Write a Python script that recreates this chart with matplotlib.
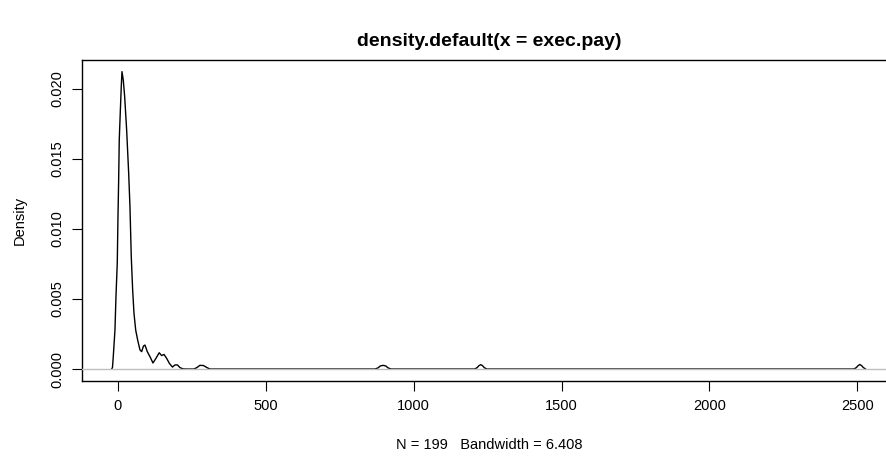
import matplotlib
matplotlib.use("Agg")
import matplotlib.pyplot as plt

plt.rcParams['font.family'] = ['Liberation Sans', 'DejaVu Sans']

# density curve of exec.pay
pay = [-19.9, -17.2, -14.5, -8.8, -5.4, -1.0, 1.4, 3.7, 5.7, 9.1, 12.5, 14.9,
       19.3, 24.0, 30.7, 37.5, 41.9, 46.3, 51.0, 55.4, 61.2, 67.9, 75.7, 81.4,
       87.5, 92.6, 100.4, 109.5, 119.6, 129.7, 140.6, 149.0, 156.8, 165.9,
       175.4, 185.5, 193.9, 202.4, 210.8, 221.0, 231.0,
       258, 268, 278, 290, 302, 312,
       870, 880, 888, 897, 906, 914, 924,
       1207, 1215, 1221, 1227, 1233, 1239, 1247,
       2488, 2496, 2502, 2508, 2514, 2520, 2527]
dens = [0.0, 0.0001, 0.00088, 0.00279, 0.00516, 0.00757, 0.01088, 0.0135,
        0.01636, 0.01829, 0.02016, 0.02124, 0.02064, 0.01945, 0.01707, 0.014,
        0.01159, 0.00802, 0.00564, 0.004, 0.00279, 0.00207, 0.00136, 0.00124,
        0.00164, 0.00171, 0.00124, 0.00088, 0.00043, 0.00076, 0.00116, 0.00096,
        0.00104, 0.00076, 0.00039, 0.00014, 0.00029, 0.00029, 0.0001, 0.00001,
        0.0,
        0.0, 0.0001, 0.00026, 0.00025, 0.0001, 0.0,
        0.0, 0.00008, 0.00022, 0.00026, 0.00022, 0.00008, 0.0,
        0.0, 0.0001, 0.00024, 0.00031, 0.00024, 0.0001, 0.0,
        0.0, 0.0001, 0.00024, 0.00032, 0.00024, 0.0001, 0.0]

xticks = [0, 500, 1000, 1500, 2000, 2500]
yticks = [0.000, 0.005, 0.010, 0.015, 0.020]

fig = plt.figure(figsize=(8.87, 4.57), dpi=100)
# the R box runs a little past the right edge of the reference
ax = fig.add_axes([0.0924, 0.1663, 0.9183, 0.7024])

ax.plot(pay, dens, color='black', lw=1)
# R draws the zero line over the curve
ax.axhline(0, color='#BEBEBE', lw=1, zorder=3)

ax.set_xlim(-120.3, 2631.8)
ax.set_ylim(-0.000857, 0.02207)
ax.set_xticks(xticks)
ax.set_xticklabels([str(t) for t in xticks])
ax.set_yticks(yticks)
ax.set_yticklabels(['%.3f' % t for t in yticks], rotation=90, va='center')
ax.tick_params(direction='out', length=7, width=0.8, labelsize=10.5, pad=6)

for s in ax.spines.values():
    s.set_linewidth(1)
ax.spines['right'].set_visible(False)

ax.set_title('density.default(x = exec.pay)', fontsize=14, fontweight='bold', pad=10)
ax.set_xlabel('N = 199   Bandwidth = 6.408', fontsize=10.5, labelpad=18)
ax.set_ylabel('Density', fontsize=10.5, labelpad=17)

fig.savefig('out.png', dpi=100)
